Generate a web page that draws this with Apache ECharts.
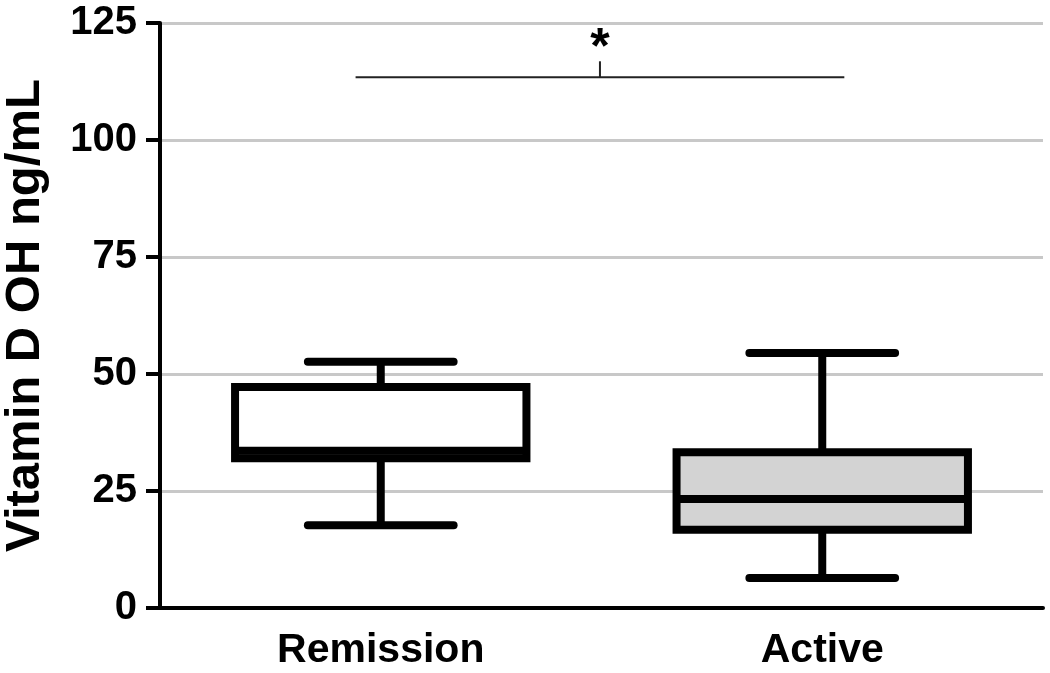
<!DOCTYPE html>
<html>
<head>
<meta charset="utf-8">
<script src="https://cdn.jsdelivr.net/npm/echarts@6/dist/echarts.min.js"></script>
<style>
html,body{margin:0;padding:0;background:#fff;}
#main{width:1050px;height:673px;}
</style>
</head>
<body>
<div id="main"></div>
<script>
// ---- data ----
var categories = ['Remission', 'Active'];
var whiskerLow  = [17.7, 6.4];
var q1          = [32.0, 16.7];
var medianVal   = [33.6, 23.3];
var q3          = [47.2, 33.3];
var whiskerHigh = [52.6, 54.5];
var boxFills    = ['#ffffff', '#d3d3d3'];
var yTicks      = [0, 25, 50, 75, 100, 125];
var sigFrom = 0, sigTo = 1, sigY = 113.4, sigText = '*';
var yTitle = 'Vitamin D OH ng/mL';

var boxData = categories.map(function (c, i) {
  return [i, whiskerLow[i], q1[i], medianVal[i], q3[i], whiskerHigh[i]];
});

var FONT = '"Liberation Sans", Arial, sans-serif';
var chart = echarts.init(document.getElementById('main'));

function renderBox(params, api) {
  var idx = api.value(0);
  var lowP = api.coord([idx, api.value(1)]);
  var q1P = api.coord([idx, api.value(2)]);
  var medP = api.coord([idx, api.value(3)]);
  var q3P = api.coord([idx, api.value(4)]);
  var highP = api.coord([idx, api.value(5)]);
  var band = api.size([1, 0])[0];
  var cx = q1P[0];
  var hw = band * 0.33;
  var cw = band * 0.165;
  var lw = 8;
  var stroke = '#000';
  return {
    type: 'group',
    children: [
      { type: 'line', shape: { x1: cx, y1: highP[1], x2: cx, y2: q3P[1] }, style: { stroke: stroke, lineWidth: lw } },
      { type: 'line', shape: { x1: cx, y1: lowP[1], x2: cx, y2: q1P[1] }, style: { stroke: stroke, lineWidth: lw } },
      { type: 'line', shape: { x1: cx - cw, y1: highP[1], x2: cx + cw, y2: highP[1] }, style: { stroke: stroke, lineWidth: lw, lineCap: 'round' } },
      { type: 'line', shape: { x1: cx - cw, y1: lowP[1], x2: cx + cw, y2: lowP[1] }, style: { stroke: stroke, lineWidth: lw, lineCap: 'round' } },
      { type: 'rect', shape: { x: cx - hw, y: q3P[1], width: hw * 2, height: q1P[1] - q3P[1] }, style: { fill: boxFills[idx], stroke: stroke, lineWidth: lw } },
      { type: 'line', shape: { x1: cx - hw, y1: medP[1], x2: cx + hw, y2: medP[1] }, style: { stroke: stroke, lineWidth: lw } }
    ]
  };
}

function renderSig(params, api) {
  var a = api.coord([api.value(0), api.value(2)]);
  var b = api.coord([api.value(1), api.value(2)]);
  var band = api.size([1, 0])[0];
  var x1 = a[0] - band * 0.057;
  var x2 = b[0] + band * 0.05;
  var y = a[1];
  var mid = (x1 + x2) / 2;
  return {
    type: 'group',
    children: [
      { type: 'line', shape: { x1: x1, y1: y, x2: x2, y2: y }, style: { stroke: '#222', lineWidth: 2 } },
      { type: 'line', shape: { x1: mid, y1: y, x2: mid, y2: y - 16 }, style: { stroke: '#222', lineWidth: 2 } },
      { type: 'text', x: mid, y: y - 3, style: { text: sigText, fill: '#000', font: 'bold 50px ' + FONT, align: 'center', verticalAlign: 'bottom' } }
    ]
  };
}

chart.setOption({
  animation: false,
  backgroundColor: '#fff',
  grid: { left: 160, right: 7, top: 23, bottom: 65, containLabel: false, outerBoundsMode: 'none' },
  xAxis: {
    type: 'category',
    data: categories,
    boundaryGap: true,
    axisLine: { lineStyle: { color: '#000', width: 4 } },
    axisTick: { alignWithLabel: true, length: 16, lineStyle: { color: '#000', width: 3 } },
    axisLabel: { color: '#000', fontFamily: FONT, fontWeight: 'bold', fontSize: 41, margin: 22 },
    splitLine: { show: false }
  },
  yAxis: {
    type: 'value',
    min: yTicks[0],
    max: yTicks[yTicks.length - 1],
    interval: 25,
    name: yTitle,
    nameLocation: 'middle',
    nameGap: 110,
    nameRotate: 90,
    nameTextStyle: { color: '#000', fontFamily: FONT, fontWeight: 'bold', fontSize: 49 },
    axisLine: { show: true, lineStyle: { color: '#000', width: 4 } },
    axisTick: { show: true, length: 14, lineStyle: { color: '#000', width: 4 } },
    axisLabel: { color: '#000', fontFamily: FONT, fontWeight: 'bold', fontSize: 40, margin: 23 },
    splitLine: { show: true, lineStyle: { color: '#c8c8c8', width: 3 } }
  },
  series: [
    {
      type: 'custom',
      renderItem: renderBox,
      encode: { x: 0, y: [1, 2, 3, 4, 5] },
      data: boxData,
      z: 5
    },
    {
      type: 'custom',
      renderItem: renderSig,
      encode: { x: [0, 1], y: 2 },
      data: [[sigFrom, sigTo, sigY]],
      z: 6,
      clip: false
    }
  ]
});
</script>
</body>
</html>
